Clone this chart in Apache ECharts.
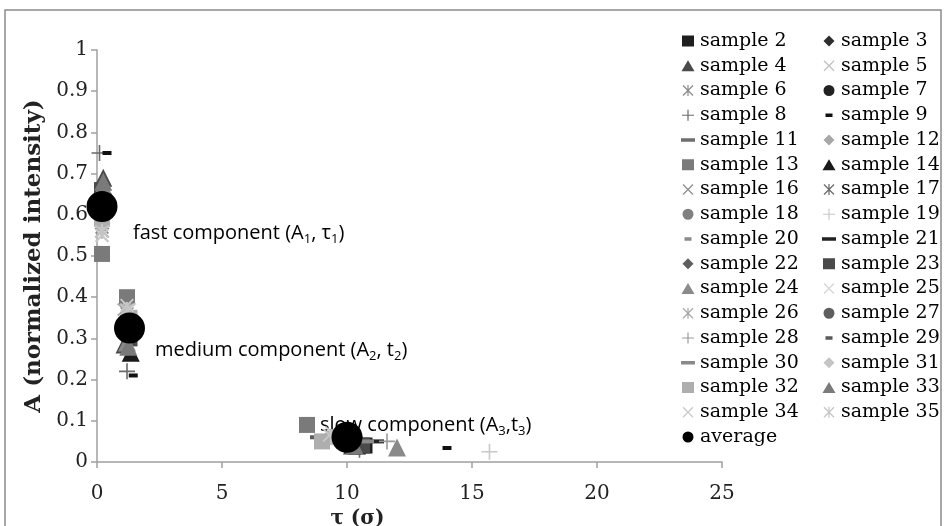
<!DOCTYPE html>
<html><head><meta charset="utf-8">
<script src="https://cdn.jsdelivr.net/npm/echarts@6/dist/echarts.min.js"></script>
<style>html,body{margin:0;padding:0;background:#fff}#c{width:947px;height:526px}</style>
</head><body><div id="c"></div>
<script>
// ---------- data ----------
const sampleNames = ['sample 2','sample 3','sample 4','sample 5','sample 6','sample 7','sample 8','sample 9',
  'sample 11','sample 12','sample 13','sample 14','sample 16','sample 17','sample 18','sample 19',
  'sample 20','sample 21','sample 22','sample 23','sample 24','sample 25','sample 26','sample 27',
  'sample 28','sample 29','sample 30','sample 31','sample 32','sample 33','sample 34','sample 35'];
// fast component (A1, tau1)
const tauFast = [0.2,0.2,0.25,0.2,0.2,0.2,0.1,0.4, 0.2,0.2,0.2,0.25,0.2,0.2,0.2,0.2, 0.3,0.2,0.2,0.2,0.25,0.2,0.2,0.2, 0.2,0.2,0.2,0.2,0.2,0.25,0.2,0.2];
const ampFast = [0.64,0.65,0.69,0.56,0.58,0.63,0.75,0.75, 0.62,0.60,0.505,0.66,0.57,0.59,0.61,0.60, 0.62,0.67,0.64,0.66,0.67,0.55,0.56,0.60, 0.61,0.57,0.60,0.58,0.59,0.68,0.55,0.56];
// medium component (A2, t2)
const tauMedium = [1.3,1.2,1.1,1.2,1.3,1.3,1.2,1.45, 1.3,1.2,1.2,1.35,1.2,1.3,1.3,1.3, 1.3,1.3,1.3,1.3,1.2,1.3,1.1,1.3, 1.2,1.3,1.3,1.2,1.3,1.25,1.2,1.2];
const ampMedium = [0.33,0.31,0.285,0.37,0.35,0.31,0.22,0.21, 0.33,0.34,0.40,0.265,0.36,0.35,0.33,0.34, 0.32,0.31,0.31,0.30,0.29,0.37,0.37,0.34, 0.33,0.36,0.33,0.35,0.35,0.28,0.38,0.37];
// slow component (A3, t3)
const tauSlow = [10.7,9.8,10.2,9.5,9.8,10.3,10.5,14.0, 9.0,9.3,8.4,10.4,9.6,9.9,10.1,15.7, 9.2,11.2,10.0,10.6,12.0,9.4,9.6,10.2, 11.6,8.7,10.8,9.4,9.0,10.3,9.3,9.7];
const ampSlow = [0.04,0.05,0.04,0.06,0.06,0.06,0.03,0.034, 0.05,0.06,0.09,0.04,0.06,0.06,0.06,0.025, 0.06,0.05,0.05,0.04,0.035,0.07,0.065,0.06, 0.05,0.06,0.05,0.06,0.05,0.04,0.065,0.06];
const averageTau = [0.2, 1.3, 10.0];
const averageAmp = [0.62, 0.325, 0.06];
const xTickLabels = ['0','5','10','15','20','25'];
const yTickLabels = ['0','0.1','0.2','0.3','0.4','0.5','0.6','0.7','0.8','0.9','1'];

// ---------- styles ----------
const markerStyles = [
  ['sq','#1e1e1e'],['dia','#2e2e2e'],['tri','#4a4a4a'],['x','#c0c0c0'],['ast','#8a8a8a'],['cir','#222222'],['plus','#6a6a6a'],['sdash','#111111'],
  ['ldash','#6e6e6e'],['dia','#a8a8a8'],['sq','#7a7a7a'],['tri','#1a1a1a'],['x','#8c8c8c'],['ast','#6a6a6a'],['cir','#808080'],['plus','#c8c8c8'],
  ['sdash','#8a8a8a'],['ldash','#222222'],['dia','#5e5e5e'],['sq','#4a4a4a'],['tri','#8a8a8a'],['x','#d4d4d4'],['ast','#a8a8a8'],['cir','#5e5e5e'],
  ['plus','#9a9a9a'],['sdash','#5a5a5a'],['ldash','#8a8a8a'],['dia','#c4c4c4'],['sq','#aeaeae'],['tri','#7a7a7a'],['x','#c8c8c8'],['ast','#c4c4c4']
];
const f = v => v.toFixed(3);
function seg(x1,y1,x2,y2,w){
  const dx=x2-x1, dy=y2-y1, L=Math.hypot(dx,dy), nx=-dy/L*w, ny=dx/L*w;
  return `M${f(x1+nx)},${f(y1+ny)}L${f(x2+nx)},${f(y2+ny)}L${f(x2-nx)},${f(y2-ny)}L${f(x1-nx)},${f(y1-ny)}Z`;
}
const plotSymbols = {
  sq:['rect',16], dia:['diamond',17], tri:['triangle',18], cir:['circle',16],
  x:['path://'+seg(1,1,9,9,0.6)+seg(9,1,1,9,0.6),14],
  ast:['path://'+seg(1,1,9,9,0.6)+seg(9,1,1,9,0.6)+seg(5,0,5,10,0.6),15],
  plus:['path://'+seg(5,0,5,10,0.5)+seg(0,5,10,5,0.5),16],
  sdash:['rect',[9,4]], ldash:['rect',[14,4]]
};
const specks = 'M0,0h0.01v0.01h-0.01Z M13.99,10.99h0.01v0.01h-0.01Z ';
const legendIcons = {
  sq:'M1,0h12v11h-12Z',
  dia:'M7,0L12.5,5.5L7,11L1.5,5.5Z',
  tri:'M7,0L13.5,11H0.5Z',
  cir:'M1.5,5.5a5.5,5.5 0 1,0 11,0a5.5,5.5 0 1,0 -11,0Z',
  x:seg(2,0.5,12,10.5,0.6)+seg(12,0.5,2,10.5,0.6),
  ast:seg(2,0.5,12,10.5,0.6)+seg(12,0.5,2,10.5,0.6)+seg(7,0,7,11,0.6),
  plus:seg(7,0,7,11,0.6)+seg(1,5.5,13,5.5,0.6),
  sdash:'M3.5,3.8h7v3.4h-7Z',
  ldash:'M0,3.8h14v3.4h-14Z'
};
const iconOf = k => 'path://' + specks + legendIcons[k];

const series = sampleNames.map((name,i)=>{
  const [shape,color] = markerStyles[i];
  const [sym,size] = plotSymbols[shape];
  return {
    name, type:'scatter', symbol:sym, symbolSize:size,
    itemStyle:{color, opacity:1},
    emphasis:{disabled:true},
    data:[[tauFast[i],ampFast[i]],[tauMedium[i],ampMedium[i]],[tauSlow[i],ampSlow[i]]]
  };
});
series.push({
  name:'average', type:'scatter', symbol:'circle', symbolSize:31,
  itemStyle:{color:'#000', opacity:1}, emphasis:{disabled:true},
  data: averageTau.map((t,i)=>[t,averageAmp[i]])
});

const allNames = sampleNames.concat(['average']);
const legendItems = allNames.map((n,i)=>({name:n, icon: i<sampleNames.length ? iconOf(markerStyles[i][0]) : iconOf('cir')}));
const leftCol = legendItems.filter((_,i)=>i%2===0);
const rightCol = legendItems.filter((_,i)=>i%2===1);
const legendBase = {
  orient:'vertical', top:31, padding:0, itemWidth:14, itemHeight:11, itemGap:4.75,
  selectedMode:false, symbolKeepAspect:false,
  textStyle:{fontFamily:'DejaVu Serif', fontSize:19, color:'#000', lineHeight:20}
};

const annRich = {
  n:{fontFamily:'Open Sans', fontSize:20, color:'#3c3c3c', lineHeight:26, verticalAlign:'middle'},
  s:{fontFamily:'Open Sans', fontSize:13, color:'#3c3c3c', lineHeight:13, verticalAlign:'bottom'}
};
function ann(x,y,text){
  return {type:'text', x, y, silent:true, style:{text, rich:annRich, align:'left', verticalAlign:'middle'}};
}

const chart = echarts.init(document.getElementById('c'), null, {renderer:'canvas'});
chart.setOption({
  animation:false,
  backgroundColor:'#fff',
  grid:{left:97, top:50, width:625, height:412, containLabel:false, outerBoundsMode:'none'},
  xAxis:{
    type:'value', min:0, max:25, interval:5,
    name:'τ (σ)', nameLocation:'middle', nameGap:31,
    nameTextStyle:{fontFamily:'DejaVu Serif', fontWeight:'bold', fontSize:20, color:'#222', padding:[0,104,0,0]},
    axisLine:{show:true, lineStyle:{color:'#a0a0a0', width:1.5}},
    axisTick:{show:true, length:6, lineStyle:{color:'#a0a0a0', width:1.5}},
    splitLine:{show:false},
    axisLabel:{margin:22, fontFamily:'DejaVu Serif', fontSize:20, color:'#222',
      formatter:(v)=>xTickLabels[Math.round(v/5)]}
  },
  yAxis:{
    type:'value', min:0, max:1, interval:0.1,
    name:'A (normalized intensity)', nameLocation:'middle', nameGap:43,
    nameTextStyle:{fontFamily:'DejaVu Serif', fontWeight:'bold', fontSize:23, color:'#222'},
    axisLine:{show:true, lineStyle:{color:'#a0a0a0', width:1.5}},
    axisTick:{show:true, length:6, lineStyle:{color:'#a0a0a0', width:1.5}},
    splitLine:{show:false},
    axisLabel:{margin:9, fontFamily:'DejaVu Serif', fontSize:20, color:'#222',
      formatter:(v)=>yTickLabels[Math.round(v*10)]}
  },
  legend:[
    Object.assign({}, legendBase, {left:681, data:leftCol}),
    Object.assign({}, legendBase, {left:822, data:rightCol})
  ],
  graphic:[
    {type:'rect', silent:true, shape:{x:5, y:10, width:936, height:540}, style:{fill:'none', stroke:'#8a8a8a', lineWidth:1.5}},
    ann(133,233,'{n|fast component (A}{s|1}{n|, τ}{s|1}{n|)}'),
    ann(155,350,'{n|medium component (A}{s|2}{n|, t}{s|2}{n|)}'),
    ann(320,425,'{n|slow component (A}{s|3}{n|,t}{s|3}{n|)}')
  ],
  series
});
</script>
</body></html>
